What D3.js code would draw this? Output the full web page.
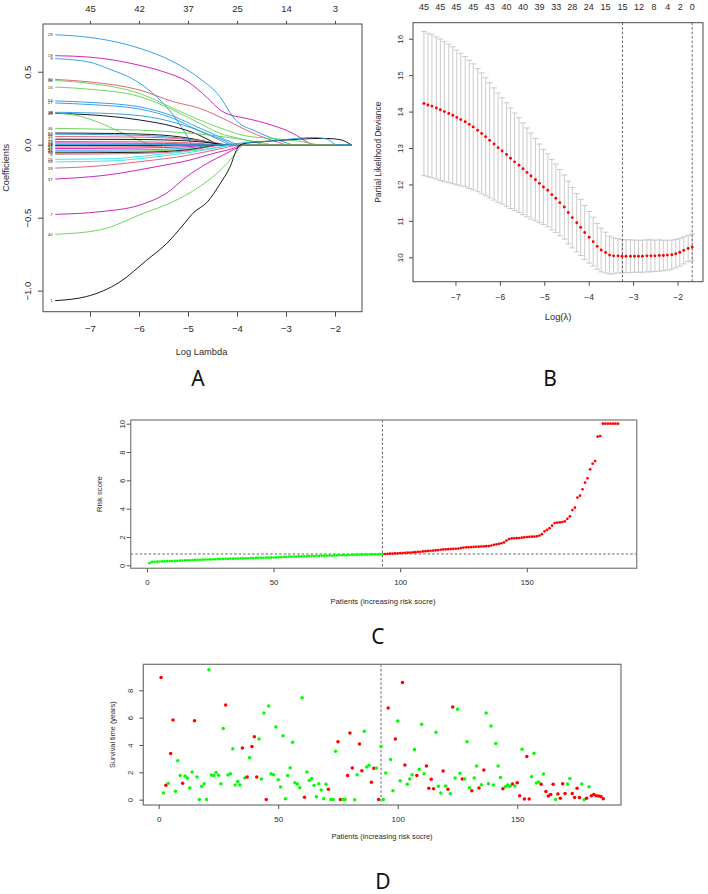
<!DOCTYPE html>
<html><head><meta charset="utf-8">
<script src="https://cdn.jsdelivr.net/npm/d3@7"></script>
<style>body{margin:0;background:#fff}</style>
</head><body>
<svg id="c" width="708" height="894" style="background:#fff"></svg>
<script>
// ---------------- DATA ----------------
// Panel A: LASSO coefficient paths
const coefTopTicks = [-7,-6,-5,-4,-3,-2];
const coefTopLabels = ["45","42","37","25","14","3"];
const coefXTicks = [-7,-6,-5,-4,-3,-2];
const coefYTicks = [-1.0,-0.5,0.0,0.5];
const coefLambdaEnd = -1.67;
const palette = ["#000000","#DF536B","#61D04F","#2297E6","#28E2E5","#CD0BBC"];
const pathIds = ["29","19","9","30","36","16","53","27","38","48","8","46","52","24","35","12","41","2","14","17","22","43","31","45","18","6","15","58","39","37","7","40","1","28"];
const pathColumn = [3,5,3,1,2,2,3,3,3,0,2,2,0,3,1,0,1,5,4,0,1,5,3,2,0,1,4,4,1,5,5,2,0,3];
const pathKnots = [
 [[-7.71,0.753],[-7,0.735],[-6.66,0.717],[-5.98,0.66],[-5.3,0.568],[-4.76,0.454],[-4.35,0.33],[-4.08,0.19],[-3.95,0.146],[-3.67,0.10],[-3.27,0.043],[-3.0,0.014],[-2.86,0]],
 [[-7.71,0.61],[-7,0.6],[-6,0.545],[-5.5,0.5],[-5,0.43],[-4.6,0.32],[-4.35,0.24],[-4.1,0.2],[-3.95,0.19],[-3.4,0.145],[-2.86,0.078],[-2.55,0.015],[-2.45,0]],
 [[-7.71,0.59],[-7,0.565],[-6.66,0.525],[-5.98,0.42],[-5.57,0.306],[-5.23,0.17],[-5.03,0.066],[-4.9,0]],
 [[-7.71,0.447],[-7,0.43],[-5.98,0.374],[-5.3,0.295],[-4.76,0.249],[-4.22,0.169],[-3.81,0.10],[-3.4,0.043],[-3.1,0.01],[-3.0,0]],
 [[-7.71,0.44],[-7,0.42],[-5.98,0.35],[-5.3,0.249],[-4.76,0.169],[-4.22,0.10],[-3.81,0.06],[-3.27,0.043],[-2.75,0.025],[-2.28,0]],
 [[-7.71,0.395],[-7,0.38],[-5.98,0.329],[-5.3,0.237],[-4.76,0.146],[-4.35,0.078],[-3.95,0.043],[-3.67,0.02],[-3.4,0]],
 [[-7.71,0.30],[-7,0.29],[-6,0.26],[-5.3,0.195],[-4.8,0.12],[-4.4,0.06],[-4.1,0.015],[-3.95,0]],
 [[-7.71,0.286],[-7,0.275],[-6,0.245],[-5.3,0.18],[-4.8,0.10],[-4.3,0.035],[-4.05,0]],
 [[-7.71,0.222],[-7,0.218],[-6,0.20],[-5.2,0.145],[-4.8,0.10],[-4.4,0.04],[-4.1,0]],
 [[-7.71,0.215],[-7,0.205],[-6,0.17],[-5.3,0.125],[-4.8,0.07],[-4.5,0.02],[-4.35,0]],
 [[-7.71,0.218],[-7.2,0.195],[-6.8,0.15],[-6.4,0.09],[-6.1,0.045],[-5.85,0.01],[-5.75,0]],
 [[-7.71,0.112],[-7,0.108],[-6,0.10],[-5,0.08],[-4.4,0.06],[-3.9,0.035],[-3.4,0.008],[-3.3,0]],
 [[-7.71,0.08],[-6.5,0.077],[-5.5,0.065],[-4.9,0.04],[-4.5,0.012],[-4.35,0]],
 [[-7.71,0.072],[-6.5,0.068],[-5.5,0.056],[-4.8,0.03],[-4.4,0.006],[-4.3,0]],
 [[-7.71,0.056],[-6,0.052],[-5,0.036],[-4.4,0.012],[-4.2,0]],
 [[-7.71,0.038],[-6,0.036],[-5,0.026],[-4.4,0.007],[-4.25,0]],
 [[-7.71,0.022],[-6,0.02],[-5,0.013],[-4.3,0]],
 [[-7.71,0.012],[-5.5,0.009],[-4.4,0]],
 [[-7.71,0.004],[-5.5,0.003],[-4.6,0]],
 [[-7.71,-0.006],[-5.5,-0.005],[-4.5,0]],
 [[-7.71,-0.016],[-6,-0.014],[-4.5,0]],
 [[-7.71,-0.026],[-6,-0.023],[-5,-0.013],[-4.3,0]],
 [[-7.71,-0.038],[-6,-0.035],[-5,-0.022],[-4.3,0]],
 [[-7.71,-0.048],[-6,-0.044],[-5,-0.03],[-4.2,0]],
 [[-7.71,-0.056],[-6,-0.052],[-5,-0.035],[-4.25,0]],
 [[-7.71,-0.065],[-6,-0.06],[-5,-0.04],[-4.2,0]],
 [[-7.71,-0.10],[-6.5,-0.095],[-5.98,-0.08],[-5,-0.045],[-4.3,-0.012],[-4.1,0]],
 [[-7.71,-0.118],[-6.5,-0.11],[-5.98,-0.095],[-5,-0.055],[-4.3,-0.015],[-4.05,0]],
 [[-7.71,-0.16],[-7,-0.15],[-5.98,-0.116],[-4.96,-0.07],[-4.3,-0.025],[-3.9,0]],
 [[-7.71,-0.235],[-6.66,-0.208],[-5.64,-0.15],[-4.96,-0.105],[-4.49,-0.06],[-4.08,-0.025],[-3.88,0]],
 [[-7.71,-0.477],[-6.8,-0.459],[-5.98,-0.413],[-5.43,-0.33],[-5.03,-0.22],[-4.62,-0.13],[-4.22,-0.06],[-3.95,-0.014],[-3.85,0]],
 [[-7.71,-0.614],[-6.8,-0.584],[-5.91,-0.47],[-5.3,-0.39],[-4.82,-0.30],[-4.41,-0.196],[-4.14,-0.105],[-3.95,-0.025],[-3.88,0]],
 [[-7.71,-1.068],[-7.07,-1.04],[-6.39,-0.94],[-5.84,-0.79],[-5.43,-0.675],[-5.1,-0.55],[-4.9,-0.47],[-4.6,-0.39],[-4.35,-0.27],[-4.14,-0.15],[-4.0,-0.03],[-3.9,0.005],[-3.5,0.02],[-3.0,0.032],[-2.5,0.042],[-2.17,0.043],[-1.9,0.035],[-1.67,0]],
 [[-7.71,0],[-4.3,0],[-3.8,0.015],[-3.26,0.027],[-2.85,0.041],[-2.44,0.05],[-2.15,0.037],[-1.97,0]]
];

// Panel B: cross-validation curve
const cvLogLambda = [-7.71,-7.62,-7.53,-7.43,-7.34,-7.25,-7.15,-7.06,-6.97,-6.88,
 -6.78,-6.69,-6.60,-6.50,-6.41,-6.32,-6.23,-6.13,-6.04,-5.95,
 -5.85,-5.76,-5.67,-5.57,-5.48,-5.39,-5.30,-5.20,-5.11,-5.02,
 -4.92,-4.83,-4.74,-4.65,-4.55,-4.46,-4.37,-4.27,-4.18,-4.09,
 -3.99,-3.90,-3.81,-3.72,-3.62,-3.53,-3.44,-3.34,-3.25,-3.16,
 -3.06,-2.97,-2.88,-2.79,-2.69,-2.60,-2.51,-2.41,-2.32,-2.23,
 -2.13,-2.04,-1.95,-1.86,-1.76,-1.67];
const cvMean = [14.22,14.18,14.15,14.10,14.05,14.00,13.95,13.90,13.84,13.78,
 13.72,13.65,13.58,13.49,13.40,13.31,13.21,13.11,13.01,12.92,
 12.82,12.72,12.62,12.53,12.43,12.33,12.23,12.13,12.03,11.93,
 11.84,11.72,11.62,11.50,11.38,11.23,11.09,10.95,10.82,10.68,
 10.55,10.43,10.30,10.20,10.13,10.06,10.04,10.04,10.03,10.03,
 10.03,10.03,10.03,10.03,10.04,10.04,10.04,10.05,10.05,10.06,
 10.07,10.10,10.14,10.19,10.24,10.28];
const cvSD = [1.98,1.97,1.96,1.95,1.94,1.92,1.90,1.88,1.85,1.82,
 1.79,1.76,1.73,1.69,1.66,1.62,1.58,1.54,1.50,1.46,
 1.42,1.38,1.34,1.30,1.26,1.22,1.18,1.13,1.08,1.03,
 1.00,0.97,0.94,0.91,0.88,0.86,0.83,0.80,0.77,0.74,
 0.71,0.67,0.63,0.60,0.56,0.52,0.49,0.47,0.46,0.45,
 0.45,0.44,0.44,0.44,0.44,0.44,0.43,0.43,0.42,0.41,
 0.40,0.39,0.38,0.37,0.36,0.36];
const cvTopPos = [-7.71,-7.34,-6.98,-6.60,-6.23,-5.85,-5.48,-5.11,-4.73,-4.37,-4.00,-3.62,-3.24,-2.87,-2.53,-2.22,-1.94,-1.67];
const cvTopLabels = ["45","45","45","45","43","40","40","39","33","28","24","15","15","12","8","4","2","0"];
const cvXTicks = [-7,-6,-5,-4,-3,-2];
const cvYTicks = [10,11,12,13,14,15,16];
const cvLambdaLines = [-3.24,-1.67];

// Panel C: risk score
const riskScore = [0.15,0.24,0.25,0.26,0.27,0.28,0.28,0.29,0.30,0.30,
 0.31,0.32,0.33,0.34,0.35,0.35,0.36,0.37,0.38,0.38,
 0.39,0.40,0.41,0.41,0.42,0.43,0.43,0.44,0.45,0.45,
 0.46,0.46,0.47,0.47,0.48,0.48,0.49,0.49,0.50,0.50,
 0.51,0.51,0.52,0.52,0.53,0.53,0.54,0.54,0.55,0.55,
 0.56,0.57,0.58,0.59,0.60,0.61,0.61,0.62,0.62,0.63,
 0.63,0.64,0.64,0.65,0.65,0.66,0.66,0.67,0.67,0.68,
 0.68,0.69,0.69,0.70,0.70,0.71,0.71,0.72,0.72,0.73,
 0.73,0.74,0.74,0.75,0.75,0.76,0.76,0.77,0.77,0.78,
 0.78,0.79,0.79,0.80,0.81,0.82,0.83,0.84,0.85,0.86,
 0.87,0.88,0.89,0.90,0.92,0.93,0.95,0.96,0.98,1.00,
 1.02,1.03,1.04,1.06,1.08,1.10,1.12,1.13,1.14,1.15,
 1.16,1.17,1.18,1.22,1.25,1.27,1.28,1.29,1.30,1.31,
 1.32,1.33,1.34,1.35,1.36,1.40,1.45,1.48,1.52,1.56,
 1.62,1.75,1.85,1.90,1.91,1.92,1.93,1.95,1.98,2.00,
 2.01,2.02,2.03,2.05,2.10,2.20,2.40,2.50,2.62,2.80,
 2.98,3.02,3.03,3.06,3.10,3.28,3.45,3.90,4.07,4.78,
 4.92,5.37,5.84,6.14,6.78,7.18,7.36,9.08,9.13,10.0,
 10.0,10.0,10.0,10.0,10.0,10.0];
const riskCutIndex = 93;
const riskCutValue = 0.8;
const riskXTicks = [0,50,100,150];
const riskYTicks = [0,2,4,6,8,10];

// Panel D: survival time and status (1 = dead, 0 = alive)
const survTime = [8.93,0.49,1.05,1.20,3.37,5.83,0.61,2.85,1.76,1.20,
 1.73,1.59,0.85,2.02,5.78,1.66,0.02,0.98,1.17,0.02,
 9.51,1.80,1.76,1.98,1.78,1.17,5.20,6.93,1.80,1.90,
 3.73,1.07,1.32,1.07,3.78,1.59,1.66,3.07,3.88,4.61,
 1.66,4.44,1.51,6.34,0.02,6.85,1.90,1.83,5.32,1.46,
 0.93,4.68,0.07,1.76,2.34,4.20,1.24,1.15,0.88,7.46,
 0.17,2.02,1.41,1.54,1.05,0.22,1.17,0.71,0.07,1.12,
 0.76,0.02,0.02,3.54,4.24,0.02,0.02,0.02,1.76,4.88,
 2.32,0.00,1.83,4.07,2.12,5.00,2.39,2.51,1.27,2.29,
 2.32,0.02,3.88,0.02,1.95,6.71,2.93,0.66,4.44,5.76,
 1.39,8.56,2.54,1.12,1.51,1.83,3.66,1.76,2.22,5.51,
 1.90,2.46,0.83,1.49,0.80,4.93,0.98,0.49,2.10,1.00,
 0.76,0.44,6.78,1.59,6.61,1.93,1.51,1.51,4.24,0.88,
 0.66,1.59,2.46,0.85,1.10,2.17,6.34,1.17,5.39,1.07,
 4.10,2.46,1.63,0.80,0.95,1.07,0.98,1.15,1.00,1.24,
 0.29,3.68,0.05,3.15,0.05,1.68,3.39,1.22,1.29,1.12,
 1.88,0.59,0.27,0.37,1.12,0.02,0.41,0.10,1.17,0.46,
 1.15,1.54,0.46,0.15,0.83,0.15,1.15,0.00,0.10,0.95,
 0.29,0.37,0.29,0.27,0.24,0.07];
const survStatus = [1,0,1,0,1,1,0,0,0,1, 0,0,0,0,1,0,0,0,0,0,
 0,0,0,0,0,0,0,1,0,0, 0,0,0,0,1,0,1,0,1,1,
 1,0,0,0,1,0,0,0,0,0, 0,0,0,0,0,0,0,0,0,0,
 1,0,0,0,0,0,0,0,0,0, 1,0,0,0,1,1,0,0,1,1,
 1,0,0,1,1,0,0,0,1,1, 0,1,0,0,0,1,0,0,1,0,
 0,1,1,0,0,0,0,1,0,0, 0,1,1,1,1,0,0,0,1,0,
 1,0,1,0,0,0,1,0,0,0, 1,0,0,1,0,1,0,0,0,0,
 0,0,0,1,0,0,0,1,0,1, 1,0,1,1,1,0,0,0,0,1,
 0,1,1,1,1,0,1,1,1,1, 0,0,1,1,1,1,0,0,1,0,
 1,1,1,1,1,1];
const survXTicks = [0,50,100,150];
const survYTicks = [0,2,4,6,8];

// ---------------- DRAWING ----------------
const svg = d3.select("#c");
const FONT = '"Liberation Sans", Arial, Helvetica, sans-serif';
const INK = "#2a2a2a";
const RED = "#FF0000", GREEN = "#00FF00";

function txt(x,y,t,size,o={}){
  const e = svg.append("text").attr("x",x).attr("y",y).text(t)
    .attr("font-family",o.family||FONT).attr("font-size",size)
    .attr("fill",o.fill||INK).attr("text-anchor",o.anchor||"middle")
    .attr("dominant-baseline",o.base||"central");
  if(o.rot) e.attr("transform",`rotate(${o.rot},${x},${y})`);
  return e;
}
function box(x0,y0,x1,y1,col,w){
  svg.append("rect").attr("x",x0).attr("y",y0).attr("width",x1-x0).attr("height",y1-y0)
    .attr("fill","none").attr("stroke",col).attr("stroke-width",w);
}
function xAxis(scale,ticks,y,len,off,size,fmt,col){
  const g = svg.append("g").attr("transform",`translate(0,${y})`)
    .call(d3.axisBottom(scale).tickValues(ticks).tickSize(len).tickSizeOuter(0).tickFormat(fmt));
  g.select(".domain").remove();
  g.selectAll(".tick line").attr("stroke",col);
  g.selectAll(".tick text").attr("y",off).attr("dy",null).attr("dominant-baseline","central")
    .attr("font-family",FONT).attr("font-size",size).attr("fill",INK);
  return g;
}
function yAxis(scale,ticks,x,len,off,size,fmt,col){
  const g = svg.append("g").attr("transform",`translate(${x},0)`)
    .call(d3.axisLeft(scale).tickValues(ticks).tickSize(len).tickSizeOuter(0).tickFormat(fmt));
  g.select(".domain").remove();
  g.selectAll(".tick line").attr("stroke",col);
  g.selectAll(".tick text").attr("x",0).attr("dy",null).attr("text-anchor","middle")
    .attr("dominant-baseline","central").attr("transform",`translate(${-off},0) rotate(-90)`)
    .attr("font-family",FONT).attr("font-size",size).attr("fill",INK);
  return g;
}

// ===== Panel A =====
{
  const L=43,R=362,T=24,B=311.7;
  const x = d3.scaleLinear([-7.959,-1.449],[L,R]);
  const y = d3.scaleLinear([-1.144,0.827],[B,T]);
  svg.append("clipPath").attr("id","clipA").append("rect").attr("x",L).attr("y",T).attr("width",R-L).attr("height",B-T);
  const line = d3.line().x(d=>x(d[0])).y(d=>y(d[1])).curve(d3.curveMonotoneX);
  const gp = svg.append("g").attr("clip-path","url(#clipA)");
  // coefficients stay at zero once a variable has left the model
  const full = pathKnots.map(k => k[k.length-1][0] < coefLambdaEnd ? k.concat([[coefLambdaEnd,0]]) : k);
  full.forEach((k,i)=>{
    gp.append("path").attr("d",line(k)).attr("fill","none")
      .attr("stroke",palette[pathColumn[i]]).attr("stroke-width",0.9);
  });
  pathKnots.forEach((k,i)=>{
    txt(x(k[0][0])-2.5, y(k[0][1]), pathIds[i], 4.4, {anchor:"end", fill:"#333"});
  });
  box(L,T,R,B,"#4a4a4a",1);
  xAxis(x,coefXTicks,B,5,17,9.5,d3.format("d"),"#4a4a4a");
  yAxis(y,coefYTicks,L,5,16,9.5,d3.format(".1f"),"#4a4a4a");
  const gt = svg.append("g").attr("transform",`translate(0,${T})`)
    .call(d3.axisTop(x).tickValues(coefTopTicks).tickSize(3).tickSizeOuter(0).tickFormat((d,i)=>coefTopLabels[i]));
  gt.select(".domain").remove();
  gt.selectAll(".tick line").attr("stroke","#4a4a4a");
  gt.selectAll(".tick text").attr("y",8-T).attr("dy",null).attr("dominant-baseline","central")
    .attr("font-family",FONT).attr("font-size",9.5).attr("fill",INK);
  txt((L+R)/2-1,351.7,"Log Lambda",9.3);
  txt(6,(T+B)/2,"Coefficients",9.2,{rot:-90});
}

// ===== Panel B =====
{
  const L=413,R=703,T=22.7,B=281.7;
  const x = d3.scaleLinear([-7.956,-1.427],[L,R]);
  const y = d3.scaleLinear([9.33,16.44],[B,T]);
  const pts = cvLogLambda.map((l,i)=>({l, m:cvMean[i], s:cvSD[i]}));
  const cap = (x(-7)-x(-7.065));
  const eg = svg.append("g").attr("stroke","#c4c4c4").attr("stroke-width",0.9);
  pts.forEach(p=>{
    eg.append("line").attr("x1",x(p.l)).attr("x2",x(p.l)).attr("y1",y(p.m-p.s)).attr("y2",y(p.m+p.s));
    eg.append("line").attr("x1",x(p.l)-cap).attr("x2",x(p.l)+cap).attr("y1",y(p.m+p.s)).attr("y2",y(p.m+p.s));
    eg.append("line").attr("x1",x(p.l)-cap).attr("x2",x(p.l)+cap).attr("y1",y(p.m-p.s)).attr("y2",y(p.m-p.s));
  });
  cvLambdaLines.forEach(v=>{
    svg.append("line").attr("x1",x(v)).attr("x2",x(v)).attr("y1",T).attr("y2",B)
      .attr("stroke","#555").attr("stroke-width",0.9).attr("stroke-dasharray","2.5,2");
  });
  svg.append("g").selectAll("circle").data(pts).join("circle")
    .attr("cx",d=>x(d.l)).attr("cy",d=>y(d.m)).attr("r",1.45).attr("fill",RED);
  box(L,T,R,B,"#4a4a4a",1);
  xAxis(x,cvXTicks,B,4,15.6,8.5,d3.format("d"),"#4a4a4a");
  yAxis(y,cvYTicks,L,4,13,8,d3.format("d"),"#4a4a4a");
  cvTopPos.forEach((p,i)=>txt(x(p),7,cvTopLabels[i],9));
  txt((L+R)/2,316,"Log(λ)",9.4);
  txt(378,(T+B)/2,"Partial Likelihood Deviance",8.4,{rot:-90});
}

// ===== Panel C =====
{
  const L=130.7,R=636.7,T=420,B=568.3;
  const x = d3.scaleLinear([-6.4,193.4],[L,R]);
  const y = d3.scaleLinear([-0.21,10.26],[B,T]);
  const pts = riskScore.map((v,i)=>({p:i+1,v}));
  svg.append("line").attr("x1",x(riskCutIndex)).attr("x2",x(riskCutIndex)).attr("y1",T).attr("y2",B)
    .attr("stroke","#555").attr("stroke-width",0.9).attr("stroke-dasharray","2.5,2");
  svg.append("line").attr("x1",L).attr("x2",R).attr("y1",y(riskCutValue)).attr("y2",y(riskCutValue))
    .attr("stroke","#555").attr("stroke-width",0.9).attr("stroke-dasharray","2.5,2");
  svg.append("g").selectAll("circle").data(pts).join("circle")
    .attr("cx",d=>x(d.p)).attr("cy",d=>y(d.v)).attr("r",1.35)
    .attr("fill",d=>d.p<=riskCutIndex?GREEN:RED);
  box(L,T,R,B,"#8c8c8c",1.4);
  xAxis(x,riskXTicks,B,4,14.7,7.8,d3.format("d"),"#555");
  yAxis(y,riskYTicks,L,4,8,7.8,d3.format("d"),"#555");
  txt(383,601.7,"Patients (increasing risk socre)",7.7);
  txt(100,(T+B)/2,"Risk score",7.7,{rot:-90});
}

// ===== Panel D =====
{
  const L=143.3,R=621,T=664.3,B=805;
  const x = d3.scaleLinear([-6.44,193.4],[L,R]);
  const y = d3.scaleLinear([-0.39,9.90],[B,T]);
  const pts = survTime.map((v,i)=>({p:i+1,v,s:survStatus[i]}));
  svg.append("line").attr("x1",x(riskCutIndex)).attr("x2",x(riskCutIndex)).attr("y1",T).attr("y2",B)
    .attr("stroke","#555").attr("stroke-width",0.9).attr("stroke-dasharray","2.5,2");
  svg.append("g").selectAll("circle").data(pts).join("circle")
    .attr("cx",d=>x(d.p)).attr("cy",d=>y(d.v)).attr("r",1.75)
    .attr("fill",d=>d.s===1?RED:GREEN);
  box(L,T,R,B,"#707070",1.2);
  xAxis(x,survXTicks,B,4,14,8,d3.format("d"),"#555");
  yAxis(y,survYTicks,L,4,12.6,7.8,d3.format("d"),"#555");
  txt(382,836.7,"Patients (increasing risk socre)",7.4);
  txt(112.7,(T+B)/2,"Survival time (years)",7.3,{rot:-90});
}

// Panel letters
const LETTER_FONT = '"Noto Sans", "DejaVu Sans", sans-serif';
txt(198,386,"A",21,{family:LETTER_FONT,base:"alphabetic",fill:"#111"});
txt(550,386,"B",21,{family:LETTER_FONT,base:"alphabetic",fill:"#111"});
txt(378,644,"C",21,{family:LETTER_FONT,base:"alphabetic",fill:"#111"});
txt(383,889,"D",21,{family:LETTER_FONT,base:"alphabetic",fill:"#111"});
</script>
</body></html>
